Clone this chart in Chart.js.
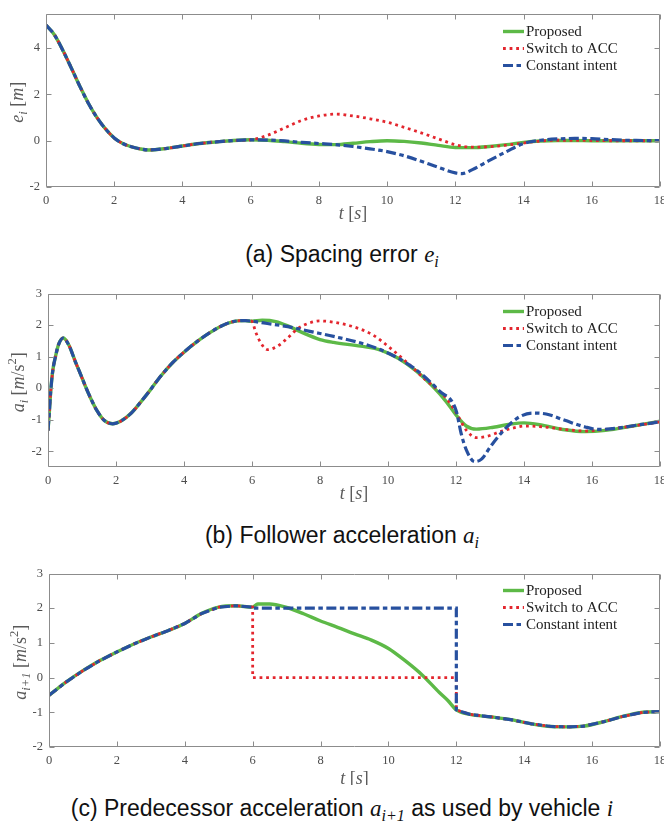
<!DOCTYPE html>
<html>
<head>
<meta charset="utf-8">
<script src="https://cdn.jsdelivr.net/npm/chart.js@4.4.1/dist/chart.umd.min.js"></script>
<style>
  body { margin: 0; width: 664px; height: 824px; overflow: hidden; background: #fff; position: relative; }
  canvas { position: absolute; left: 0; }
  .cap { position: absolute; left: 0; width: 684px; text-align: center; line-height: 28px;
         font-family: "Liberation Sans", Arial, sans-serif; font-size: 23px; color: #111; }
  .cap .m { font-family: "Liberation Serif", serif; font-style: italic; }
  .cap sub { font-size: 70%; vertical-align: -0.3em; line-height: 0; }
</style>
</head>
<body>
<canvas id="chartA" width="684" height="225" style="top:0px"></canvas>
<canvas id="chartB" width="684" height="225" style="top:280px"></canvas>
<canvas id="chartC" width="684" height="225" style="top:560px"></canvas>
<div class="cap" style="top:240px">(a) Spacing error <span class="m">e<sub>i</sub></span></div>
<div class="cap" style="top:521px">(b) Follower acceleration <span class="m">a<sub>i</sub></span></div>
<div class="cap" style="top:794px">(c) Predecessor acceleration <span class="m">a<sub>i+1</sub></span> as used by vehicle <span class="m">i</span></div>

<script>
const seriesNames = ['Proposed', 'Switch to ACC', 'Constant intent'];
const xTicks = [0, 2, 4, 6, 8, 10, 12, 14, 16, 18];
const yTicksA = [-2, 0, 2, 4];
const yTicksB = [-2, -1, 0, 1, 2, 3];
const yTicksC = [-2, -1, 0, 1, 2, 3];

// (a) spacing error, identical for all three up to t = 6
const tA = [0, 0.25, 0.5, 0.75, 1, 1.25, 1.5, 1.75, 2, 2.25, 2.5, 2.75, 3, 3.5, 4, 4.5, 5, 5.5, 6];
const eShared = [5.0, 4.57, 3.89, 3.12, 2.33, 1.6, 0.99, 0.5, 0.12, -0.12, -0.26, -0.35, -0.4, -0.34, -0.23, -0.12, -0.05, 0.01, 0.04];
const tAEnd = [6.5, 7, 7.5, 8, 8.5, 9, 9.5, 10, 10.5, 11, 11.5, 12, 12.5, 13, 13.5, 14, 14.5, 15, 15.5, 16, 16.5, 17, 17.5, 18];
const eProposed = [0.02, -0.04, -0.11, -0.16, -0.17, -0.11, -0.04, 0.0, -0.03, -0.1, -0.2, -0.29, -0.3, -0.25, -0.17, -0.07, -0.01, 0.01, 0.01, 0, 0, 0, 0, 0];
const eSwitch = [0.24, 0.56, 0.88, 1.07, 1.15, 1.07, 0.95, 0.8, 0.58, 0.34, 0.08, -0.17, -0.28, -0.26, -0.19, -0.1, -0.01, 0.02, 0.02, 0.01, 0, 0, 0, 0];
const tAConst = [6.5, 7, 7.5, 8, 8.5, 9, 9.5, 10, 10.5, 11, 11.5, 12, 12.2, 12.5, 13, 13.5, 14, 14.5, 15, 15.5, 16, 16.5, 17, 17.5, 18];
const eConst = [0.03, -0.01, -0.07, -0.12, -0.17, -0.25, -0.35, -0.47, -0.65, -0.89, -1.15, -1.39, -1.42, -1.25, -0.85, -0.47, -0.12, 0.02, 0.08, 0.1, 0.09, 0.05, 0.02, 0.01, 0];

// (b) follower acceleration
const tB = [0, 0.04, 0.08, 0.14, 0.22, 0.31, 0.45, 0.62, 0.8, 0.95, 1.1, 1.25, 1.45, 1.65, 1.9, 2.15, 2.45, 2.75, 3, 3.3, 3.65, 4, 4.4, 4.75, 5.1, 5.45, 5.8, 6];
const aShared = [-1.35, -0.75, -0.1, 0.55, 1.0, 1.38, 1.59, 1.35, 0.85, 0.46, 0.06, -0.31, -0.73, -1.02, -1.13, -1.04, -0.79, -0.41, -0.07, 0.36, 0.79, 1.14, 1.49, 1.75, 1.97, 2.11, 2.14, 2.12];
const tBProp = [6.3, 6.7, 7.1, 7.5, 8, 8.4, 9.2, 9.8, 10.3, 10.8, 11.3, 11.7, 12, 12.3, 12.6, 13.1, 13.6, 14, 14.6, 15.2, 15.8, 16.4, 17.2, 18];
const aProposed = [2.15, 2.11, 1.95, 1.75, 1.54, 1.45, 1.33, 1.2, 0.95, 0.57, 0.07, -0.41, -0.85, -1.2, -1.3, -1.24, -1.14, -1.1, -1.19, -1.32, -1.38, -1.34, -1.2, -1.05];
const tBSwitch = [6.1, 6.25, 6.45, 6.75, 7.05, 7.35, 7.65, 8, 8.4, 9, 9.55, 10, 10.55, 11.1, 11.7, 12, 12.3, 12.6, 12.9, 13.3, 13.7, 14, 14.6, 15.2, 15.8, 16.4, 17.2, 18];
const aSwitch = [1.8, 1.45, 1.22, 1.33, 1.59, 1.89, 2.05, 2.13, 2.09, 1.94, 1.69, 1.33, 0.82, 0.27, -0.3, -0.77, -1.33, -1.57, -1.53, -1.38, -1.26, -1.2, -1.23, -1.31, -1.36, -1.31, -1.2, -1.07];
const tBConst = [6.45, 7.1, 7.7, 8.4, 9.2, 9.75, 10.35, 10.9, 11.5, 12, 12.15, 12.3, 12.55, 12.75, 13.05, 13.45, 13.85, 14.25, 14.65, 15.2, 15.8, 16.2, 16.8, 17.4, 18];
const aConst = [2.05, 1.94, 1.8, 1.64, 1.43, 1.23, 0.92, 0.52, -0.08, -0.7, -1.43, -1.95, -2.33, -2.25, -1.8, -1.28, -0.92, -0.79, -0.82, -1.02, -1.23, -1.31, -1.26, -1.16, -1.07];

// (c) predecessor acceleration as seen by vehicle i
const tC = [0, 0.5, 1, 1.5, 2, 2.5, 3, 3.5, 4, 4.5, 5, 5.5, 6];
const pShared = [-0.51, -0.13, 0.2, 0.49, 0.74, 0.97, 1.17, 1.35, 1.56, 1.85, 2.03, 2.07, 2.03];
const tCProp = [6.15, 6.5, 7, 7.5, 8, 8.5, 9, 9.5, 10, 10.5, 11, 11.5, 11.75];
const pProposed = [2.12, 2.12, 2.02, 1.84, 1.63, 1.45, 1.26, 1.08, 0.84, 0.48, 0.07, -0.43, -0.66];
const tCStep = [6, 12];
const pSwitch = [0, 0];
const pConst = [2, 2];
const tCEnd = [12, 12.4, 13, 13.6, 14.2, 14.8, 15.35, 15.75, 16.35, 16.9, 17.5, 18];
const pEnd = [-0.93, -1.06, -1.13, -1.21, -1.33, -1.41, -1.42, -1.4, -1.27, -1.12, -1.0, -0.98];

const GREEN = '#5db947', RED = '#e3262e', BLUE = '#27509f';
const SERIF = '"Liberation Serif", "Times New Roman", serif';

const pts = (ts, vs) => ts.map((t, i) => ({ x: t, y: vs[i] }));

// series styles: proposed solid, ACC dotted, constant intent dash-dot
const styles = [
  { borderColor: GREEN, borderWidth: 3.4, borderDash: [], order: 2 },
  { borderColor: RED, borderWidth: 2.8, borderDash: [2.8, 3.8], order: 1 },
  { borderColor: BLUE, borderWidth: 3.2, borderDash: [10, 3.5, 4.5, 3.5], order: 0 }
];

function series(i, data, smooth) {
  return Object.assign({
    label: seriesNames[i],
    data: data,
    pointRadius: 0,
    borderCapStyle: 'butt',
    fill: false,
    tension: 0,
    cubicInterpolationMode: smooth ? 'monotone' : 'default'
  }, styles[i]);
}

// draws a string made of upright / italic / sub / sup pieces
function drawRich(ctx, parts, x, y, rotate) {
  const size = 18, small = 12.5;
  const fontOf = p => {
    const it = p[1].indexOf('i') >= 0 ? 'italic ' : '';
    const sz = (p[1].indexOf('b') >= 0 || p[1].indexOf('p') >= 0) ? small : size;
    return it + sz + 'px ' + SERIF;
  };
  ctx.save();
  ctx.translate(x, y);
  if (rotate) ctx.rotate(-Math.PI / 2);
  let total = 0;
  const w = parts.map(p => { ctx.font = fontOf(p); const m = ctx.measureText(p[0]).width; total += m; return m; });
  let cx = -total / 2;
  ctx.fillStyle = '#5a5a5a';
  ctx.textBaseline = 'alphabetic';
  parts.forEach((p, i) => {
    ctx.font = fontOf(p);
    const dy = p[1].indexOf('b') >= 0 ? 4 : (p[1].indexOf('p') >= 0 ? -8 : 0);
    ctx.fillText(p[0], cx, dy);
    cx += w[i];
  });
  ctx.restore();
}

const tTitle = [['t', 'i'], [' [', ''], ['s', 'i'], [']', '']];

// box, inward ticks, axis titles and legend
const frame = {
  id: 'frame',
  afterDraw(chart, args, o) {
    const { ctx, chartArea: a, scales: { x, y } } = chart;
    const L = Math.round(a.left) + 0.5, R = Math.round(a.right) - 0.5;
    const T = Math.round(a.top) + 0.5, B = Math.round(a.bottom) - 0.5;
    ctx.save();
    ctx.strokeStyle = '#8c8c8c';
    ctx.lineWidth = 1;
    ctx.beginPath();
    ctx.rect(L, T, R - L, B - T);
    x.ticks.forEach(t => {
      const px = Math.round(x.getPixelForValue(t.value)) + 0.5;
      ctx.moveTo(px, B); ctx.lineTo(px, B - 5);
      ctx.moveTo(px, T); ctx.lineTo(px, T + 5);
    });
    y.ticks.forEach(t => {
      const py = Math.round(y.getPixelForValue(t.value)) + 0.5;
      ctx.moveTo(L, py); ctx.lineTo(L + 5, py);
      ctx.moveTo(R, py); ctx.lineTo(R - 5, py);
    });
    ctx.stroke();

    drawRich(ctx, tTitle, (a.left + a.right) / 2, a.bottom + o.xTitleGap + 5, false);
    drawRich(ctx, o.yTitle, o.yTitleX, (a.top + a.bottom) / 2 + 2, true);

    // legend in the upper right corner
    chart.data.datasets.forEach((ds, i) => {
      const ry = a.top + o.legendTop + i * 17;
      const lx = a.right - 157;
      ctx.save();
      ctx.strokeStyle = ds.borderColor;
      ctx.lineWidth = ds.borderWidth;
      ctx.setLineDash(ds.borderDash);
      ctx.beginPath();
      ctx.moveTo(lx, ry); ctx.lineTo(lx + 21, ry);
      ctx.stroke();
      ctx.restore();
      ctx.font = '15px ' + SERIF;
      ctx.fillStyle = '#222';
      ctx.textBaseline = 'middle';
      ctx.fillText(ds.label, lx + 23, ry + 1);
    });
    ctx.restore();
  }
};

function panel(id, sets, p) {
  return new Chart(document.getElementById(id), {
    type: 'line',
    data: { datasets: sets },
    options: {
      responsive: false,
      animation: false,
      devicePixelRatio: 1,
      layout: { padding: { top: p.padTop, right: 24, left: 0, bottom: 0 } },
      plugins: {
        legend: { display: false },
        tooltip: { enabled: false },
        frame: { yTitle: p.yTitle, yTitleX: p.yTitleX, xTitleGap: p.xTitleGap, legendTop: p.legendTop }
      },
      scales: {
        x: {
          type: 'linear', min: 0, max: 18,
          afterBuildTicks: s => { s.ticks = xTicks.map(v => ({ value: v })); },
          afterFit: s => { s.height = 38; },
          grid: { display: false, drawTicks: false }, border: { display: false },
          ticks: { padding: 6, maxRotation: 0, autoSkip: false, color: '#4d4d4d', font: { family: SERIF, size: 12.5 } }
        },
        y: {
          type: 'linear', min: p.yMin, max: p.yMax,
          afterBuildTicks: s => { s.ticks = p.yTicks.map(v => ({ value: v })); },
          afterFit: s => { s.width = p.left; },
          grid: { display: false, drawTicks: false }, border: { display: false },
          ticks: { padding: 6, autoSkip: false, color: '#4d4d4d', font: { family: SERIF, size: 12.5 } }
        }
      }
    },
    plugins: [frame]
  });
}

panel('chartA', [
  series(0, pts(tA, eShared).concat(pts(tAEnd, eProposed)), true),
  series(1, pts(tA, eShared).concat(pts(tAEnd, eSwitch)), true),
  series(2, pts(tA, eShared).concat(pts(tAConst, eConst)), true)
], {
  padTop: 6, left: 46, yMin: -2, yMax: 5.5, yTicks: yTicksA, yTitleX: 23, xTitleGap: 27, legendTop: 18,
  yTitle: [['e', 'i'], ['i', 'ib'], [' [', ''], ['m', 'i'], [']', '']]
});

panel('chartB', [
  series(0, pts(tB, aShared).concat(pts(tBProp, aProposed)), true),
  series(1, pts(tB, aShared).concat(pts(tBSwitch, aSwitch)), true),
  series(2, pts(tB, aShared).concat(pts(tBConst, aConst)), true)
], {
  padTop: 6, left: 48, yMin: -2.5, yMax: 3, yTicks: yTicksB, yTitleX: 24, xTitleGap: 27, legendTop: 18,
  yTitle: [['a', 'i'], ['i', 'ib'], [' [', ''], ['m', 'i'], ['/s', ''], ['2', 'p'], [']', '']]
});

panel('chartC', [
  series(0, pts(tC, pShared).concat(pts(tCProp, pProposed), pts(tCEnd, pEnd)), true),
  series(1, pts(tC, pShared).concat(pts(tCStep, pSwitch), pts(tCEnd, pEnd)), false),
  series(2, pts(tC, pShared).concat(pts(tCStep, pConst), pts(tCEnd, pEnd)), false)
], {
  padTop: 7, left: 49, yMin: -2, yMax: 3, yTicks: yTicksC, yTitleX: 26, xTitleGap: 32, legendTop: 17,
  yTitle: [['a', 'i'], ['i+1', 'ib'], [' [', ''], ['m', 'i'], ['/s', ''], ['2', 'p'], [']', '']]
});
</script>
</body>
</html>
